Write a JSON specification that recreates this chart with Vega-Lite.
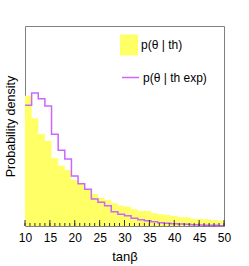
{
  "$schema": "https://vega.github.io/schema/vega-lite/v6.json",
  "width": 199,
  "height": 200,
  "autosize": "none",
  "padding": {"left": 25, "top": 26, "right": 25, "bottom": 40},
  "background": "white",
  "config": {
    "font": "Liberation Sans",
    "view": {"stroke": "#808080", "strokeWidth": 1},
    "axis": {"grid": false, "domain": false, "labelFont": "Liberation Sans", "titleFont": "Liberation Sans", "titleFontWeight": "normal", "labelColor": "#000", "titleColor": "#000", "labelOverlap": false},
    "legend": {"labelFont": "Liberation Sans", "labelFontSize": 12, "labelColor": "#000", "padding": 0}
  },
  "datasets": {
    "hist": [
      {"x": 10.000, "th": 391, "thexp": 362},
      {"x": 11.333, "th": 323, "thexp": 399},
      {"x": 12.667, "th": 276, "thexp": 382},
      {"x": 14.000, "th": 255, "thexp": 360},
      {"x": 15.333, "th": 203, "thexp": 275},
      {"x": 16.667, "th": 181, "thexp": 227},
      {"x": 18.000, "th": 168, "thexp": 201},
      {"x": 19.333, "th": 138, "thexp": 150},
      {"x": 20.667, "th": 125, "thexp": 127},
      {"x": 22.000, "th": 111, "thexp": 110},
      {"x": 23.333, "th": 96, "thexp": 81},
      {"x": 24.667, "th": 85, "thexp": 71},
      {"x": 26.000, "th": 78, "thexp": 61},
      {"x": 27.333, "th": 68, "thexp": 43},
      {"x": 28.667, "th": 61, "thexp": 35},
      {"x": 30.000, "th": 58, "thexp": 31},
      {"x": 31.333, "th": 50, "thexp": 23},
      {"x": 32.667, "th": 45, "thexp": 19},
      {"x": 34.000, "th": 45, "thexp": 16},
      {"x": 35.333, "th": 38, "thexp": 13},
      {"x": 36.667, "th": 35, "thexp": 10},
      {"x": 38.000, "th": 33, "thexp": 8},
      {"x": 39.333, "th": 30, "thexp": 7},
      {"x": 40.667, "th": 26, "thexp": 6},
      {"x": 42.000, "th": 26, "thexp": 5},
      {"x": 43.333, "th": 21, "thexp": 4},
      {"x": 44.667, "th": 21, "thexp": 3},
      {"x": 46.000, "th": 20, "thexp": 2},
      {"x": 47.333, "th": 18, "thexp": 2},
      {"x": 48.667, "th": 16, "thexp": 1},
      {"x": 50.000, "th": 16, "thexp": 1}
    ],
    "ticks": [
      {"x": 10}, {"x": 11}, {"x": 12}, {"x": 13}, {"x": 14}, {"x": 15}, {"x": 16}, {"x": 17}, {"x": 18}, {"x": 19},
      {"x": 20}, {"x": 21}, {"x": 22}, {"x": 23}, {"x": 24}, {"x": 25}, {"x": 26}, {"x": 27}, {"x": 28}, {"x": 29},
      {"x": 30}, {"x": 31}, {"x": 32}, {"x": 33}, {"x": 34}, {"x": 35}, {"x": 36}, {"x": 37}, {"x": 38}, {"x": 39},
      {"x": 40}, {"x": 41}, {"x": 42}, {"x": 43}, {"x": 44}, {"x": 45}, {"x": 46}, {"x": 47}, {"x": 48}, {"x": 49}, {"x": 50}
    ]
  },
  "encoding": {
    "x": {
      "field": "x", "type": "quantitative",
      "scale": {"domain": [10, 50], "nice": false, "zero": false},
      "axis": {
        "title": "tanβ", "titleFontSize": 13, "titlePadding": 7,
        "values": [10, 15, 20, 25, 30, 35, 40, 45, 50],
        "labelFontSize": 12, "labelPadding": 6, "labelFlush": false, "labelOverlap": false, "ticks": false
      }
    }
  },
  "layer": [
    {
      "data": {"name": "hist"},
      "mark": {"type": "area", "interpolate": "step-after"},
      "encoding": {
        "y": {
          "field": "th", "type": "quantitative",
          "scale": {"domain": [0, 600], "nice": false},
          "axis": {"title": "Probability density", "titleFontSize": 12.5, "titlePadding": 8, "labels": false, "ticks": false}
        },
        "fill": {
          "datum": "p(θ | th)",
          "scale": {"range": ["#ffff66"]},
          "legend": {"title": null, "orient": "none", "legendX": 95, "legendY": 10, "symbolType": "M-1,-1.167H1V1.167H-1Z", "symbolSize": 324, "symbolStrokeWidth": 0, "symbolOpacity": 1, "labelOffset": 3}
        }
      }
    },
    {
      "data": {"name": "hist"},
      "mark": {"type": "line", "interpolate": "step-after", "strokeWidth": 1.5},
      "encoding": {
        "y": {"field": "thexp", "type": "quantitative"},
        "stroke": {
          "datum": "p(θ | th exp)",
          "scale": {"range": ["#cc66ff"]},
          "legend": {"title": null, "orient": "none", "legendX": 96, "legendY": 42, "symbolType": "stroke", "symbolSize": 289, "symbolStrokeWidth": 1.5, "labelOffset": 3}
        }
      }
    },
    {
      "data": {"name": "ticks"},
      "mark": {"type": "rule", "color": "#333", "strokeWidth": 1},
      "encoding": {
        "y": {"datum": 0},
        "y2": {"datum": 9}
      }
    },
    {
      "data": {"name": "ticks"},
      "transform": [{"filter": "datum.x % 5 === 0"}],
      "mark": {"type": "rule", "color": "#333", "strokeWidth": 1},
      "encoding": {
        "y": {"datum": 0},
        "y2": {"datum": 18}
      }
    }
  ]
}
